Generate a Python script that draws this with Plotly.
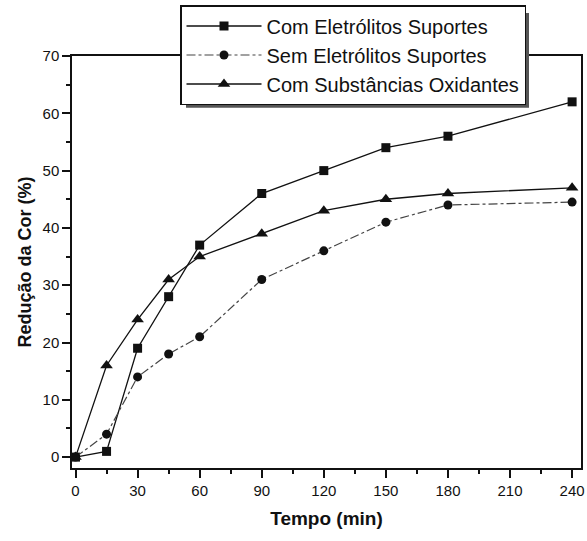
import plotly.graph_objects as go

tempo = [0, 15, 30, 45, 60, 90, 120, 150, 180, 240]
com_eletrolitos = [0, 1, 19, 28, 37, 46, 50, 54, 56, 62]
sem_eletrolitos = [0, 4, 14, 18, 21, 31, 36, 41, 44, 44.5]
com_oxidantes = [0, 16, 24, 31, 35, 39, 43, 45, 46, 47]

x_ticks = [0, 30, 60, 90, 120, 150, 180, 210, 240]
y_ticks = [0, 10, 20, 30, 40, 50, 60, 70]

FONT = "Liberation Sans, Arial, sans-serif"
W, H = 587, 541
ML, MR, MT, MB = 72, 6, 55, 73
PW, PH = W - ML - MR, H - MT - MB

def px2paper_x(px):
    return (px - ML) / PW

def px2paper_y(py):
    return (H - MB - py) / PH

fig = go.Figure()
fig.add_trace(go.Scatter(
    x=tempo, y=com_eletrolitos, name="Com Eletrólitos Suportes",
    mode="lines+markers",
    line=dict(color="#111111", width=1.3),
    marker=dict(symbol="square", size=9, color="#111111"),
))
fig.add_trace(go.Scatter(
    x=tempo, y=sem_eletrolitos, name="Sem Eletrólitos Suportes",
    mode="lines+markers",
    line=dict(color="#444444", width=1.2, dash="dashdot"),
    marker=dict(symbol="circle", size=9, color="#111111"),
))
fig.add_trace(go.Scatter(
    x=tempo, y=com_oxidantes, name="Com Substâncias Oxidantes",
    mode="lines+markers",
    line=dict(color="#111111", width=1.3),
    marker=dict(symbol="triangle-up", size=11, color="#111111"),
))

# legend shadow (offset ~5 px right/down of the legend box)
fig.add_shape(type="rect", xref="paper", yref="paper",
              x0=px2paper_x(186), x1=px2paper_x(529),
              y0=px2paper_y(107), y1=px2paper_y(12),
              fillcolor="#555555", line=dict(width=0), layer="above")

fig.update_layout(
    width=W, height=H,
    margin=dict(l=ML, r=MR, t=MT, b=MB),
    paper_bgcolor="white", plot_bgcolor="white",
    font=dict(family=FONT, color="#111111"),
    showlegend=True,
    legend=dict(
        x=px2paper_x(180), y=px2paper_y(5), xanchor="left", yanchor="top",
        bgcolor="white", bordercolor="#111111", borderwidth=1.5,
        font=dict(size=20, family=FONT, color="#111111"),
        itemwidth=75,
    ),
    xaxis=dict(
        range=[-1.7, 244.3], tickmode="array", tickvals=x_ticks,
        ticks="outside", ticklen=8, tickwidth=1.5, tickcolor="#111111",
        showline=True, linecolor="#111111", linewidth=1.5, mirror=True,
        showgrid=False, zeroline=False, automargin=False,
        tickfont=dict(size=15, family=FONT),
        minor=dict(dtick=15, tick0=0, ticks="outside", ticklen=4, tickcolor="#111111"),
        title=dict(text="<b>Tempo (min)</b>", font=dict(size=19, family=FONT), standoff=14),
    ),
    yaxis=dict(
        range=[-1.9, 70], tickmode="array", tickvals=y_ticks,
        ticks="outside", ticklen=8, tickwidth=1.5, tickcolor="#111111",
        showline=True, linecolor="#111111", linewidth=1.5, mirror=True,
        showgrid=False, zeroline=False, automargin=False,
        tickfont=dict(size=15, family=FONT),
        minor=dict(dtick=5, tick0=0, ticks="outside", ticklen=4, tickcolor="#111111"),
        title=dict(text="<b>Redução da Cor (%)</b>", font=dict(size=18, family=FONT), standoff=6),
    ),
)

fig.write_html("out.html", config={"displayModeBar": False},
               post_script="document.body.style.margin='0';")
